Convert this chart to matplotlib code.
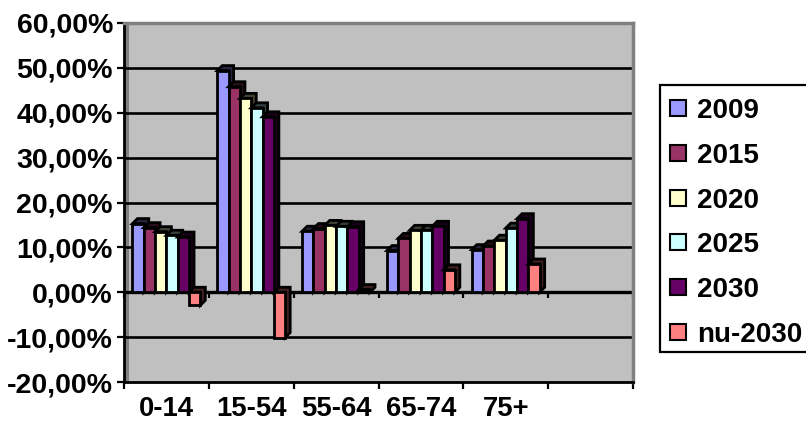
import matplotlib
matplotlib.use("Agg")
import matplotlib.pyplot as plt
from matplotlib.patches import Rectangle, Polygon
from matplotlib.ticker import FixedLocator, FuncFormatter
from matplotlib import markers
import numpy as np

# ---- data -------------------------------------------------------------
categories = ["0-14", "15-54", "55-64", "65-74", "75+"]
series_names = ["2009", "2015", "2020", "2025", "2030", "nu-2030"]
v2009 = [15.3, 49.4, 13.6, 9.3, 9.5]
v2015 = [14.4, 45.8, 14.2, 12.0, 10.3]
v2020 = [13.5, 43.2, 14.9, 13.8, 11.6]
v2025 = [12.7, 41.1, 14.7, 13.8, 14.3]
v2030 = [12.3, 39.1, 14.6, 14.7, 16.4]
v_nu = [-2.9, -10.1, 0.6, 5.0, 6.3]
series_values = [v2009, v2015, v2020, v2025, v2030, v_nu]
colors = ["#9999FF", "#993366", "#FFFFCC", "#CCFFFF", "#660066", "#FF8080"]
y_ticks = [-20, -10, 0, 10, 20, 30, 40, 50, 60]
n_slots = 6  # five age groups plus one empty slot

# ---- figure / axes ----------------------------------------------------
W, H, DPI = 806, 423, 100
fig = plt.figure(figsize=(W / DPI, H / DPI), dpi=DPI)
fig.patch.set_facecolor("white")
FONT = "Liberation Sans"

ax_l, ax_r, ax_t, ax_b = 124, 633, 23, 382
ax = fig.add_axes([ax_l / W, 1 - ax_b / H, (ax_r - ax_l) / W, (ax_b - ax_t) / H])
ax.set_facecolor("#C0C0C0")
ax.set_xlim(0, n_slots)
ax.set_ylim(-20, 60)

# data units per pixel
px_x = n_slots / (ax_r - ax_l)
px_y = 80 / (ax_b - ax_t)

# spines
for s in ["top", "right"]:
    ax.spines[s].set_color("#808080")
    ax.spines[s].set_linewidth(2.5)
for s in ["left", "bottom"]:
    ax.spines[s].set_color("black")
    ax.spines[s].set_linewidth(2.0)

# left side wall strip
ax.add_patch(Rectangle((0, -20), 5 * px_x, 80, facecolor="#808080",
                       edgecolor="none", zorder=0.5))

# gridlines
for yv in y_ticks[1:-1]:
    ax.axhline(yv, color="black", lw=1.9 if yv != 0 else 2.4, zorder=1)

# category axis tick marks at zero line
ax.plot(np.arange(n_slots + 1), np.zeros(n_slots + 1), linestyle="none",
        marker=markers.TICKDOWN, markersize=4, mew=1.6, color="black",
        zorder=1, clip_on=False)

# ---- 3D-effect bars ---------------------------------------------------
bar_w = 1 / 7.5
offset = 0.75 * bar_w
dx, dy = 5 * px_x, 5 * px_y


def darker(hexcol, f=0.25):
    c = np.array(matplotlib.colors.to_rgb(hexcol))
    return tuple(c * f)


z = 2
for ci in range(len(categories)):
    for si, vals in enumerate(series_values):
        v = vals[ci]
        x0 = ci + offset + si * bar_w
        x1 = x0 + bar_w
        ytop, ybot = max(v, 0), min(v, 0)
        depth = Polygon([(x0, ytop), (x0 + dx, ytop + dy), (x1 + dx, ytop + dy),
                         (x1 + dx, ybot + dy), (x1, ybot), (x1, ytop)],
                        closed=True, facecolor=darker(colors[si]),
                        edgecolor="black", lw=2.0, zorder=z, joinstyle="miter")
        ax.add_patch(depth)
        ax.add_patch(Rectangle((x0, ybot), bar_w, ytop - ybot,
                               facecolor=colors[si], edgecolor="black",
                               lw=2.0, zorder=z + 0.5, joinstyle="miter"))
        z += 1

# ---- ticks and labels -------------------------------------------------
ax.yaxis.set_major_locator(FixedLocator(y_ticks))
ax.yaxis.set_major_formatter(FuncFormatter(lambda v, p: f"{v:.2f}%".replace(".", ",")))
ax.tick_params(axis="y", direction="out", length=5, width=1.6, pad=3,
               labelsize=20.5, colors="black")

ax.xaxis.set_major_locator(FixedLocator(np.arange(n_slots + 1)))
ax.xaxis.set_major_formatter(FuncFormatter(lambda v, p: ""))
ax.xaxis.set_minor_locator(FixedLocator(np.arange(len(categories)) + 0.5))
ax.set_xticklabels(categories, minor=True)
ax.tick_params(axis="x", which="major", direction="out", length=5, width=1.6)
ax.tick_params(axis="x", which="minor", length=0, pad=10, labelsize=19.8)

for lab in ax.get_yticklabels() + ax.get_xticklabels(minor=True):
    lab.set_fontfamily(FONT)
    lab.set_fontweight("bold")

# ---- legend -------------------------------------------------------------
def fx(px):
    return px / W


def fy(py):
    return 1 - py / H


fig.add_artist(Rectangle((fx(660), fy(352)), fx(810 - 660), (352 - 85) / H,
                         transform=fig.transFigure, facecolor="white",
                         edgecolor="black", lw=1.6, clip_on=False))
for i, name in enumerate(series_names):
    cy = 108 + 44.8 * i
    fig.add_artist(Rectangle((fx(670), fy(cy + 8)), fx(16), 16 / H,
                             transform=fig.transFigure, facecolor=colors[i],
                             edgecolor="black", lw=1.5))
    fig.text(fx(697), fy(cy), name, fontsize=20, fontweight="bold",
             fontfamily=FONT, va="center_baseline", ha="left")

fig.savefig("out.png", dpi=DPI)
